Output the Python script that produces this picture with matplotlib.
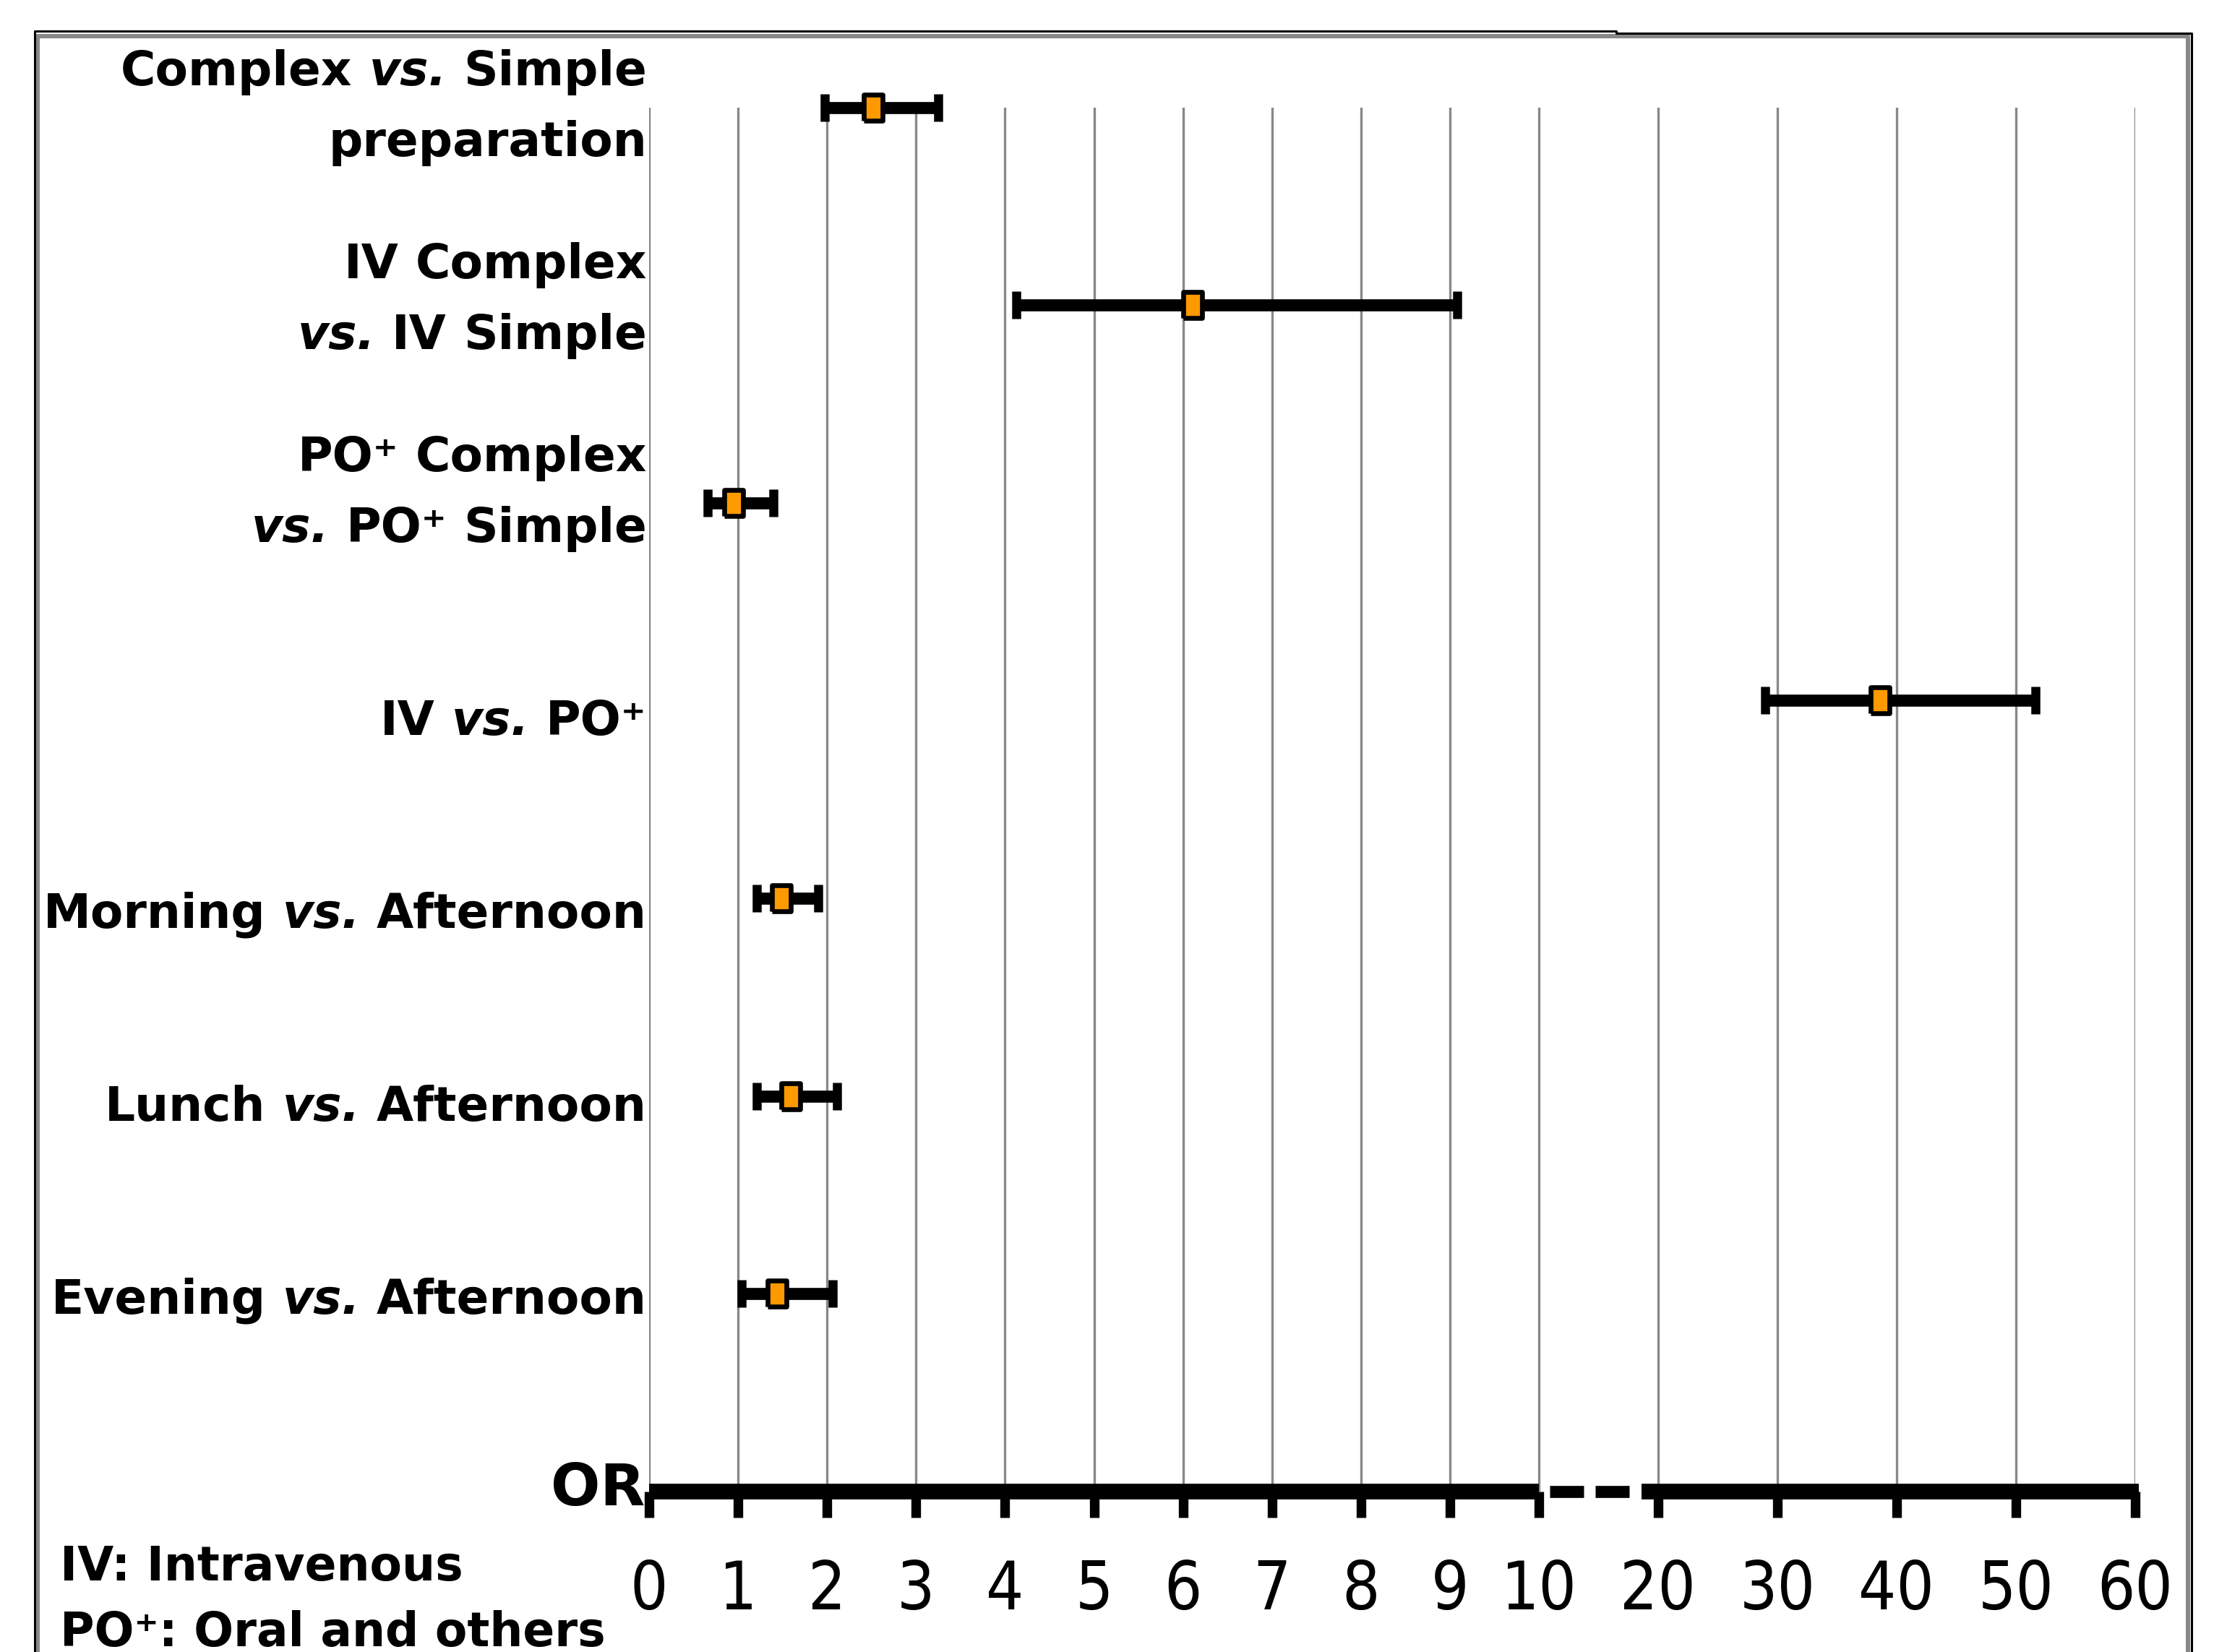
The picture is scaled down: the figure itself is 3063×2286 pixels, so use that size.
import numpy as np
import matplotlib.pyplot as plt
from matplotlib.lines import Line2D

# comparisons, top to bottom (each entry = lines of the row label)
comparisons = [
    ["Complex vs. Simple", "preparation"],
    ["IV Complex", "vs. IV Simple"],
    ["PO⁺ Complex", "vs. PO⁺ Simple"],
    ["IV vs. PO⁺"],
    ["Morning vs. Afternoon"],
    ["Lunch vs. Afternoon"],
    ["Evening vs. Afternoon"],
]
odds_ratio = [2.52, 6.11, 0.95, 38.6, 1.49, 1.59, 1.44]
ci_low = [1.97, 4.13, 0.66, 28.95, 1.21, 1.21, 1.04]
ci_high = [3.25, 9.08, 1.40, 51.67, 1.90, 2.11, 2.06]
tick_values = [0, 1, 2, 3, 4, 5, 6, 7, 8, 9, 10, 20, 30, 40, 50, 60]
footnotes = ["IV: Intravenous", "PO⁺: Oral and others"]

# broken axis: linear up to 10, then squeezed
BREAK = 10
SQUEEZE = 0.134

def fwd(v):
    v = np.asarray(v, dtype=float)
    return np.where(v <= BREAK, v, BREAK + (v - BREAK) * SQUEEZE)

def inv(u):
    u = np.asarray(u, dtype=float)
    return np.where(u <= BREAK, u, BREAK + (u - BREAK) / SQUEEZE)

LABEL_FS = 23.8
ORANGE = "#FF9900"

def draw_label_line(ax, y, line):
    # right aligned, words chained from the right so "vs." can be italic
    gap = 0.348 * LABEL_FS
    prev = None
    for w in reversed(line.split(" ")):
        kw = dict(fontsize=LABEL_FS, fontweight="bold", ha="right",
                  fontstyle="italic" if w == "vs." else "normal")
        if prev is None:
            prev = ax.text(-0.0015, y, w, transform=ax.get_yaxis_transform(),
                           va="baseline", clip_on=False, **kw)
        else:
            prev = ax.annotate(w, xy=(0, 0), xycoords=prev, xytext=(-gap, 0),
                               textcoords="offset points", va="bottom", **kw)

fig = plt.figure(figsize=(15.315, 11.43), dpi=200)
ax = fig.add_axes([0.2932, 0.0971, 0.6711, 0.8379])
ax.set_xscale("function", functions=(fwd, inv))
ax.set_xlim(0, 60)
ax.set_ylim(len(comparisons), 0)

rows = np.arange(len(comparisons))
xerr = [np.array(odds_ratio) - np.array(ci_low), np.array(ci_high) - np.array(odds_ratio)]
eb = ax.errorbar(odds_ratio, rows, xerr=xerr, fmt="none", ecolor="black",
                 elinewidth=6, capsize=7, capthick=4.5, zorder=3)
for art in eb.get_children():
    art.set_clip_on(False)
box = [(-0.35, -0.5), (0.35, -0.5), (0.35, 0.5), (-0.35, 0.5), (-0.35, -0.5)]
ax.plot(odds_ratio, rows, linestyle="none", marker=box, markersize=13,
        markerfacecolor=ORANGE, markeredgecolor="black", markeredgewidth=2.4,
        zorder=4, clip_on=False)

# gridlines and ticks
ax.set_xticks(tick_values, labels=[str(v) for v in tick_values], fontsize=33,
              family=["Liberation Sans Narrow", "DejaVu Sans"], fontstretch="condensed")
ax.tick_params(axis="x", direction="out", length=13, width=4.8, color="black", pad=20)
ax.tick_params(axis="y", left=False, labelleft=False)
ax.grid(axis="x", color="#888888", linewidth=1.2, zorder=0)
ax.set_axisbelow(True)
for sp in ax.spines.values():
    sp.set_visible(False)

# OR axis line with the break drawn dashed
y_axis = len(comparisons)
ax.plot([0, BREAK], [y_axis, y_axis], color="black", lw=7.8, solid_capstyle="butt",
        clip_on=False, zorder=5)
ax.plot([18.6, 60.3], [y_axis, y_axis], color="black", lw=7.8, solid_capstyle="butt",
        clip_on=False, zorder=5)
ax.plot([10.9, 17.6], [y_axis, y_axis], color="black", lw=6, linestyle=(0, (2.82, 0.96)),
        dash_capstyle="butt", clip_on=False, zorder=5)

# row labels
pitch = 0.976
for i, lines in enumerate(comparisons):
    last = i * pitch + 0.245
    for j, line in enumerate(lines):
        draw_label_line(ax, last - (len(lines) - 1 - j) * 0.357, line)

fig.text(0.2915, 0.0888, "OR", fontsize=29, fontweight="bold", ha="right", va="baseline")
fig.text(0.027, 0.0434, footnotes[0], fontsize=23.3, fontweight="bold", va="baseline")
fig.text(0.027, 0.0035, footnotes[1], fontsize=23.3, fontweight="bold", va="baseline")

# outer frame
fig.add_artist(Line2D([0.017, 0.017, 0.9884, 0.9884], [0.0, 0.9783, 0.9783, 0.0],
                      transform=fig.transFigure, color="#888888", lw=2.2))
fig.add_artist(Line2D([0.0158, 0.0158, 0.73, 0.73, 0.99, 0.99], [0.0, 0.9812, 0.9812, 0.9799, 0.9799, 0.0],
                      transform=fig.transFigure, color="black", lw=1.1))

fig.savefig("out.png", dpi=200)
